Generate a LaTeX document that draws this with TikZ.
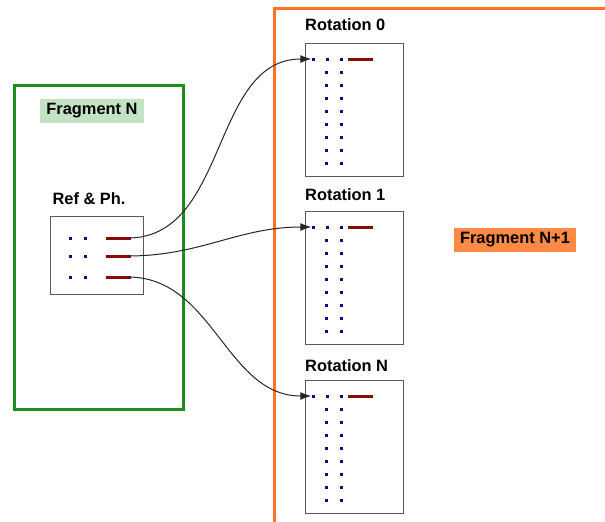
\documentclass[tikz,border=0pt]{standalone}
\usepackage{fontspec}
\setmainfont{Liberation Sans}
\usetikzlibrary{arrows.meta}
\definecolor{fragGreen}{HTML}{1E8C1E}
\definecolor{fragGreenFill}{HTML}{C4E2C4}
\definecolor{fragOrange}{HTML}{FF7420}
\definecolor{fragOrangeFill}{HTML}{FF8A45}
\definecolor{dotBlue}{HTML}{0A0A8C}
\definecolor{barRed}{HTML}{8C0A0A}
\tikzset{
  lbl/.style={font=\fontsize{16.4}{19}\selectfont\bfseries, inner sep=3pt},
  tagbox/.style={lbl, inner xsep=6pt, inner ysep=5pt},
  panel/.style={draw=black!65, line width=1pt},
  pt/.style={fill=dotBlue, inner sep=0pt, minimum size=3pt, draw=none},
  bar/.style={draw=barRed, line width=3pt},
  link/.style={draw=black!85, line width=1pt},
  linkarrow/.style={link, -{Latex[length=11pt,width=8pt]}},
}
\begin{document}
\begin{tikzpicture}[x=1pt,y=-1pt]
\useasboundingbox (0,0) rectangle (605,522);
\clip (0,0) rectangle (605,522);

% fragment frames
\draw[fragGreen, line width=3pt] (14,85) rectangle (183,409);
\draw[fragOrange, line width=3pt] (274,8) rectangle (640,560);

\node[tagbox, fill=fragGreenFill] (fragN) at (92,111) {Fragment N};
\node[tagbox, fill=fragOrangeFill] (fragN1) at (515,240) {Fragment N+1};

% reference and phase block
\node[lbl] (refttl) at (89,199) {Ref \& Ph.};
\node[panel, minimum width=93pt, minimum height=78pt, inner sep=0pt] (ref) at (96.5,255) {};
\foreach \r/\y in {1/238, 2/256, 3/277} {
  \node[pt] at (70,\y) {};
  \node[pt] at (85,\y) {};
  \coordinate (rb\r) at (106,\y);
  \coordinate (re\r) at (131,\y);
  \draw[bar] (rb\r) -- (re\r);
}

% rotation blocks: labels are left-aligned with the block edge
\foreach \k/\name/\top/\ly in {0/Rotation 0/43/25, 1/Rotation 1/211/195, 2/Rotation N/380/366} {
  \node[lbl, anchor=west, inner xsep=0pt] (rt\k) at (305,\ly) {\name};
  \node[panel, minimum width=98pt, minimum height=133pt, inner sep=0pt, anchor=north west] (rot\k) at (305,\top) {};
  \node[pt] (first\k) at (313,\top+16) {};
  \node[pt] at (327,\top+16) {};
  \node[pt] at (341,\top+16) {};
  \draw[bar] (348,\top+16) -- (373,\top+16);
  \foreach \i in {1,...,8} {
    \node[pt] at (326,\top+16+13*\i) {};
    \node[pt] at (341,\top+16+13*\i) {};
  }
}

% links from reference rows to rotation blocks
\draw[linkarrow] ([xshift=-3pt]re1) to[out=0, in=180] (first0.west);
\draw[linkarrow] ([xshift=-3pt]re2) to[out=0, in=180] (first1.west);
\draw[linkarrow] ([xshift=-3pt]re3) to[out=0, in=180] (first2.west);
\end{tikzpicture}
\end{document}
